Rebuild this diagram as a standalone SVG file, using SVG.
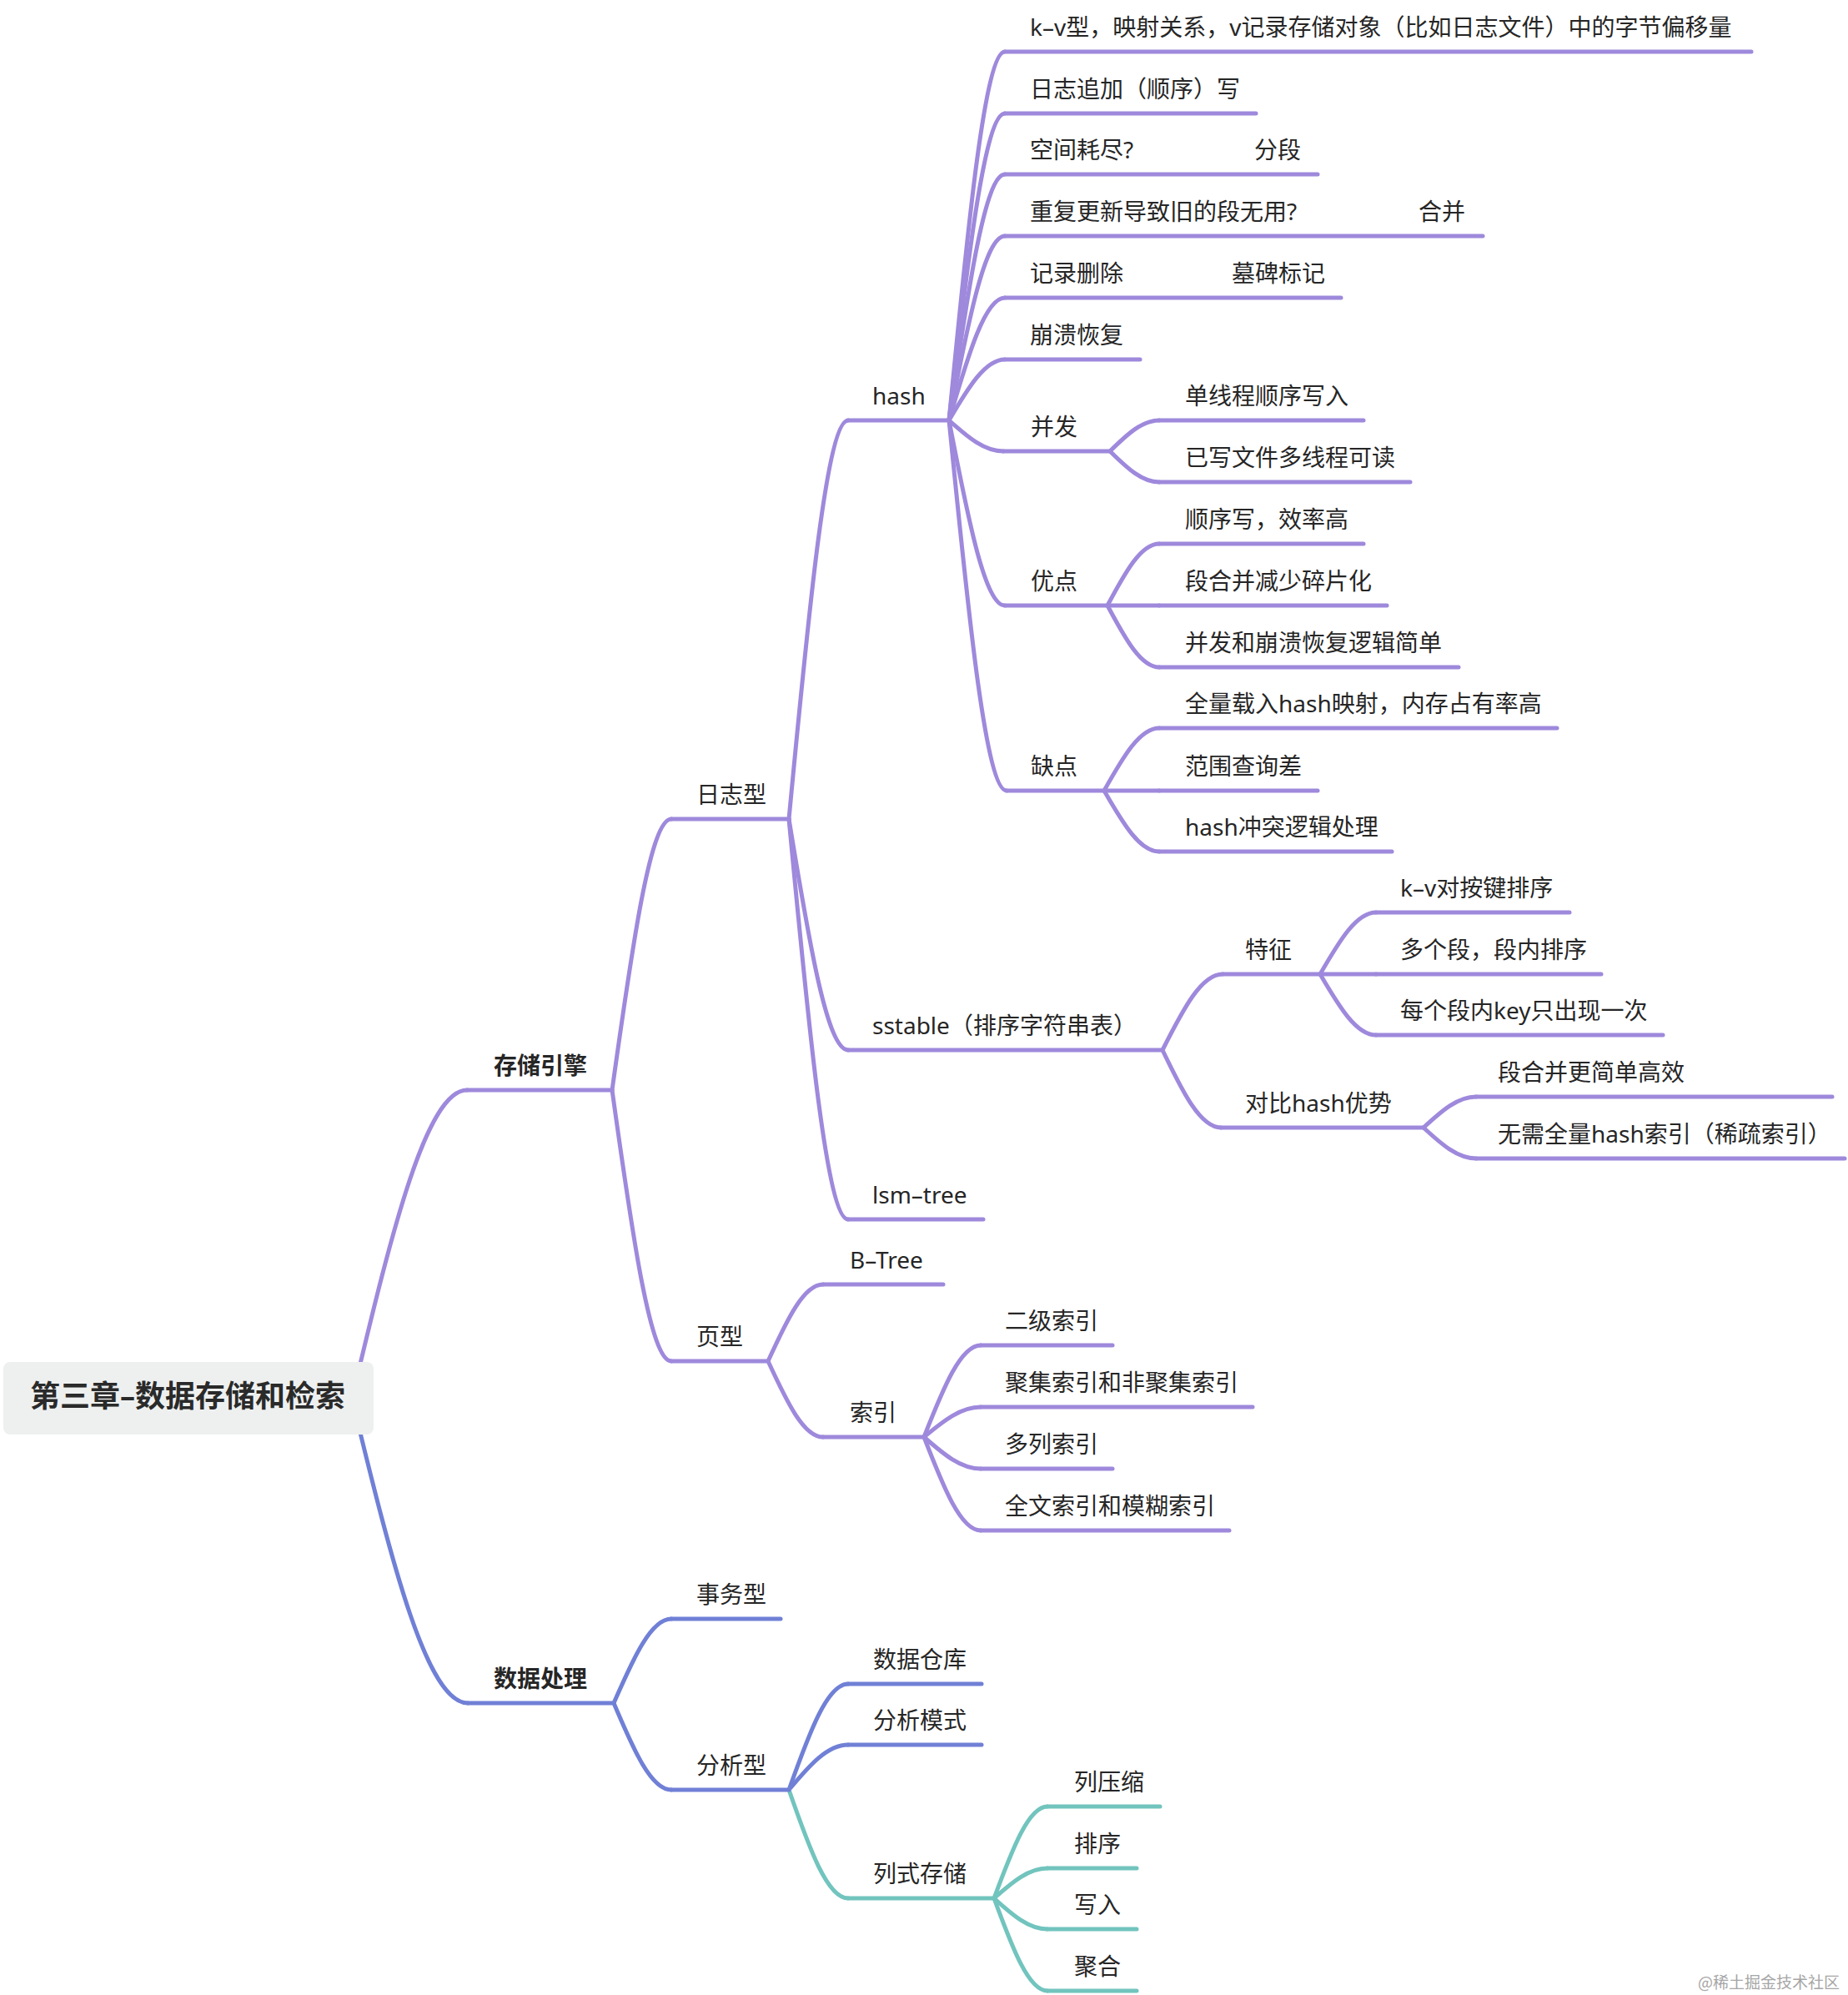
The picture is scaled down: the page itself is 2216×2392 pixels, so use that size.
<svg xmlns="http://www.w3.org/2000/svg" width="2216" height="2392" viewBox="0 0 2216 2392">
<style>
.c{fill:none;stroke-width:5;stroke-linecap:round;stroke-linejoin:round}
.u{stroke-width:5;stroke-linecap:round}
.p{stroke:#9E89DC}
.b{stroke:#7080D6}
.t{stroke:#72C4BE}
text{font-family:"Noto Sans","Noto Sans CJK SC",sans-serif;font-size:28px;fill:#262626}
.bd{font-weight:700}
.root{font-size:36px;font-weight:700;fill:#2a2a2a}
.wm{font-family:"Noto Sans CJK SC",sans-serif;font-size:19px;fill:#a6a6a6}
</style>
<rect width="2216" height="2392" fill="#ffffff"/>
<g id="connectors">
<path class="c p" d="M422,1677 C470.3,1473.5 511.7,1307 560,1307"/>
<path class="c b" d="M422,1677 C470.7,1877.8 512.4,2042 561,2042"/>
<path class="c p" d="M734,1307 C758.9,1128.3 780.2,982 805,982"/>
<path class="c p" d="M734,1307 C758.9,1485.8 780.2,1632 805,1632"/>
<path class="c b" d="M736,2042 C760.2,1986.5 780.9,1941 805,1941"/>
<path class="c b" d="M736,2042 C760.2,2099.2 780.9,2146 805,2146"/>
<path class="c p" d="M946,982 C970.9,719.1 992.2,504 1017,504"/>
<path class="c p" d="M946,982 C970.9,1134.4 992.2,1259 1017,1259"/>
<path class="c p" d="M946,982 C970.9,1246 992.2,1462 1017,1462"/>
<path class="c p" d="M921,1632 C944.1,1581.4 963.9,1540 987,1540"/>
<path class="c p" d="M921,1632 C944.1,1682.1 963.9,1723 987,1723"/>
<path class="c b" d="M946,2146 C970.9,2076.2 992.2,2019 1017,2019"/>
<path class="c b" d="M946,2146 C970.9,2116.3 992.2,2092 1017,2092"/>
<path class="c t" d="M946,2146 C970.9,2217.5 992.2,2276 1017,2276"/>
<path class="c p" d="M1138,504 C1161.5,260.9 1181.6,62 1205,62"/>
<path class="c p" d="M1138,504 C1161.5,301.6 1181.6,136 1205,136"/>
<path class="c p" d="M1138,504 C1161.5,341.8 1181.6,209 1205,209"/>
<path class="c p" d="M1138,504 C1161.5,382.5 1181.6,283 1205,283"/>
<path class="c p" d="M1138,504 C1161.5,423.2 1181.6,357 1205,357"/>
<path class="c p" d="M1138,504 C1161.5,463.9 1181.6,431 1205,431"/>
<path class="c p" d="M1138,504 C1160.8,524.4 1180.3,541 1203,541"/>
<path class="c p" d="M1138,504 C1161.5,626.1 1181.6,726 1205,726"/>
<path class="c p" d="M1138,504 C1162.2,748.2 1182.9,948 1207,948"/>
<path class="c p" d="M1331,541 C1351.7,520.7 1369.4,504 1390,504"/>
<path class="c p" d="M1331,541 C1351.7,561.4 1369.4,578 1390,578"/>
<path class="c p" d="M1328,726 C1349.7,685.3 1368.3,652 1390,652"/>
<path class="c p" d="M1328,726 L1390,726"/>
<path class="c p" d="M1328,726 C1349.7,766.7 1368.3,800 1390,800"/>
<path class="c p" d="M1324,948 C1347.1,906.8 1366.9,873 1390,873"/>
<path class="c p" d="M1324,948 L1390,948"/>
<path class="c p" d="M1324,948 C1347.1,988.2 1366.9,1021 1390,1021"/>
<path class="c p" d="M1394,1259 C1419.2,1209 1440.8,1168 1466,1168"/>
<path class="c p" d="M1394,1259 C1418.5,1310.2 1439.5,1352 1464,1352"/>
<path class="c p" d="M1583,1168 C1606.5,1127.3 1626.6,1094 1650,1094"/>
<path class="c p" d="M1583,1168 L1650,1168"/>
<path class="c p" d="M1583,1168 C1606.5,1208.2 1626.6,1241 1650,1241"/>
<path class="c p" d="M1707,1352 C1729,1331.7 1748,1315 1770,1315"/>
<path class="c p" d="M1707,1352 C1729,1372.4 1748,1389 1770,1389"/>
<path class="c p" d="M1108,1723 C1131.8,1662.5 1152.2,1613 1176,1613"/>
<path class="c p" d="M1108,1723 C1131.8,1703.2 1152.2,1687 1176,1687"/>
<path class="c p" d="M1108,1723 C1131.8,1743.9 1152.2,1761 1176,1761"/>
<path class="c p" d="M1108,1723 C1131.8,1784.6 1152.2,1835 1176,1835"/>
<path class="c t" d="M1192,2276 C1214.4,2215.5 1233.6,2166 1256,2166"/>
<path class="c t" d="M1192,2276 C1214.4,2256.2 1233.6,2240 1256,2240"/>
<path class="c t" d="M1192,2276 C1214.4,2296.4 1233.6,2313 1256,2313"/>
<path class="c t" d="M1192,2276 C1214.4,2337 1233.6,2387 1256,2387"/>
</g>
<g id="node-root">
<rect x="4" y="1633" width="444" height="87" rx="8" fill="#EEF0F0"/>
<text class="root" x="36" y="1687">第三章–数据存储和检索</text>
</g>
<g id="node-storage-engine"><line class="u p" x1="560" y1="1307" x2="734" y2="1307"/><text class="bd" x="592" y="1288">存储引擎</text></g>
<g id="node-data-processing"><line class="u b" x1="561" y1="2042" x2="736" y2="2042"/><text class="bd" x="592" y="2023">数据处理</text></g>
<g id="node-log"><line class="u p" x1="805" y1="982" x2="946" y2="982"/><text x="835" y="963">日志型</text></g>
<g id="node-page"><line class="u p" x1="805" y1="1632" x2="921" y2="1632"/><text x="835" y="1613">页型</text></g>
<g id="node-transaction"><line class="u b" x1="805" y1="1941" x2="936" y2="1941"/><text x="835" y="1922">事务型</text></g>
<g id="node-analytic"><line class="u b" x1="805" y1="2146" x2="946" y2="2146"/><text x="835" y="2127">分析型</text></g>
<g id="node-hash"><line class="u p" x1="1017" y1="504" x2="1138" y2="504"/><text x="1046" y="485">hash</text></g>
<g id="node-sstable"><line class="u p" x1="1017" y1="1259" x2="1394" y2="1259"/><text x="1046" y="1240">sstable（排序字符串表）</text></g>
<g id="node-lsm"><line class="u p" x1="1017" y1="1462" x2="1179" y2="1462"/><text x="1046" y="1443">lsm–tree</text></g>
<g id="node-btree"><line class="u p" x1="987" y1="1540" x2="1131" y2="1540"/><text x="1019" y="1521">B–Tree</text></g>
<g id="node-index"><line class="u p" x1="987" y1="1723" x2="1108" y2="1723"/><text x="1019" y="1704">索引</text></g>
<g id="node-warehouse"><line class="u b" x1="1017" y1="2019" x2="1177" y2="2019"/><text x="1047" y="2000">数据仓库</text></g>
<g id="node-schema"><line class="u b" x1="1017" y1="2092" x2="1177" y2="2092"/><text x="1047" y="2073">分析模式</text></g>
<g id="node-columnar"><line class="u t" x1="1017" y1="2276" x2="1192" y2="2276"/><text x="1047" y="2257">列式存储</text></g>
<g id="node-kv"><line class="u p" x1="1205" y1="62" x2="2100" y2="62"/><text x="1235" y="43">k–v型，映射关系，v记录存储对象（比如日志文件）中的字节偏移量</text></g>
<g id="node-append"><line class="u p" x1="1205" y1="136" x2="1506" y2="136"/><text x="1235" y="117">日志追加（顺序）写</text></g>
<g id="node-space"><line class="u p" x1="1205" y1="209" x2="1580" y2="209"/><text x="1235" y="190">空间耗尽?<tspan x="1504">分段</tspan></text></g>
<g id="node-merge"><line class="u p" x1="1205" y1="283" x2="1778" y2="283"/><text x="1235" y="264">重复更新导致旧的段无用?<tspan x="1701">合并</tspan></text></g>
<g id="node-delete"><line class="u p" x1="1205" y1="357" x2="1608" y2="357"/><text x="1235" y="338">记录删除<tspan x="1477">墓碑标记</tspan></text></g>
<g id="node-crash"><line class="u p" x1="1205" y1="431" x2="1367" y2="431"/><text x="1235" y="412">崩溃恢复</text></g>
<g id="node-concurrency"><line class="u p" x1="1203" y1="541" x2="1331" y2="541"/><text x="1236" y="522">并发</text></g>
<g id="node-pros"><line class="u p" x1="1205" y1="726" x2="1328" y2="726"/><text x="1236" y="707">优点</text></g>
<g id="node-cons"><line class="u p" x1="1207" y1="948" x2="1324" y2="948"/><text x="1236" y="929">缺点</text></g>
<g id="node-single-writer"><line class="u p" x1="1390" y1="504" x2="1635" y2="504"/><text x="1421" y="485">单线程顺序写入</text></g>
<g id="node-multi-reader"><line class="u p" x1="1390" y1="578" x2="1691" y2="578"/><text x="1421" y="559">已写文件多线程可读</text></g>
<g id="node-seq-write"><line class="u p" x1="1390" y1="652" x2="1635" y2="652"/><text x="1421" y="633">顺序写，效率高</text></g>
<g id="node-defrag"><line class="u p" x1="1390" y1="726" x2="1663" y2="726"/><text x="1421" y="707">段合并减少碎片化</text></g>
<g id="node-simple"><line class="u p" x1="1390" y1="800" x2="1749" y2="800"/><text x="1421" y="781">并发和崩溃恢复逻辑简单</text></g>
<g id="node-memory"><line class="u p" x1="1390" y1="873" x2="1867" y2="873"/><text x="1421" y="854">全量载入hash映射，内存占有率高</text></g>
<g id="node-range"><line class="u p" x1="1390" y1="948" x2="1580" y2="948"/><text x="1421" y="929">范围查询差</text></g>
<g id="node-collision"><line class="u p" x1="1390" y1="1021" x2="1669" y2="1021"/><text x="1421" y="1002">hash冲突逻辑处理</text></g>
<g id="node-features"><line class="u p" x1="1466" y1="1168" x2="1583" y2="1168"/><text x="1493" y="1149">特征</text></g>
<g id="node-vs-hash"><line class="u p" x1="1464" y1="1352" x2="1707" y2="1352"/><text x="1493" y="1333">对比hash优势</text></g>
<g id="node-sorted"><line class="u p" x1="1650" y1="1094" x2="1882" y2="1094"/><text x="1679" y="1075">k–v对按键排序</text></g>
<g id="node-segments"><line class="u p" x1="1650" y1="1168" x2="1920" y2="1168"/><text x="1679" y="1149">多个段，段内排序</text></g>
<g id="node-once"><line class="u p" x1="1650" y1="1241" x2="1994" y2="1241"/><text x="1679" y="1222">每个段内key只出现一次</text></g>
<g id="node-easier-merge"><line class="u p" x1="1770" y1="1315" x2="2197" y2="1315"/><text x="1796" y="1296">段合并更简单高效</text></g>
<g id="node-sparse"><line class="u p" x1="1770" y1="1389" x2="2212" y2="1389"/><text x="1796" y="1370">无需全量hash索引（稀疏索引）</text></g>
<g id="node-secondary"><line class="u p" x1="1176" y1="1613" x2="1334" y2="1613"/><text x="1205" y="1594">二级索引</text></g>
<g id="node-clustered"><line class="u p" x1="1176" y1="1687" x2="1502" y2="1687"/><text x="1205" y="1668">聚集索引和非聚集索引</text></g>
<g id="node-multicol"><line class="u p" x1="1176" y1="1761" x2="1334" y2="1761"/><text x="1205" y="1742">多列索引</text></g>
<g id="node-fulltext"><line class="u p" x1="1176" y1="1835" x2="1474" y2="1835"/><text x="1205" y="1816">全文索引和模糊索引</text></g>
<g id="node-compress"><line class="u t" x1="1256" y1="2166" x2="1391" y2="2166"/><text x="1288" y="2147">列压缩</text></g>
<g id="node-sort"><line class="u t" x1="1256" y1="2240" x2="1363" y2="2240"/><text x="1288" y="2221">排序</text></g>
<g id="node-write"><line class="u t" x1="1256" y1="2313" x2="1363" y2="2313"/><text x="1288" y="2294">写入</text></g>
<g id="node-aggregate"><line class="u t" x1="1256" y1="2387" x2="1363" y2="2387"/><text x="1288" y="2368">聚合</text></g>
<text class="wm" x="2206" y="2384" text-anchor="end">@稀土掘金技术社区</text>
</svg>
